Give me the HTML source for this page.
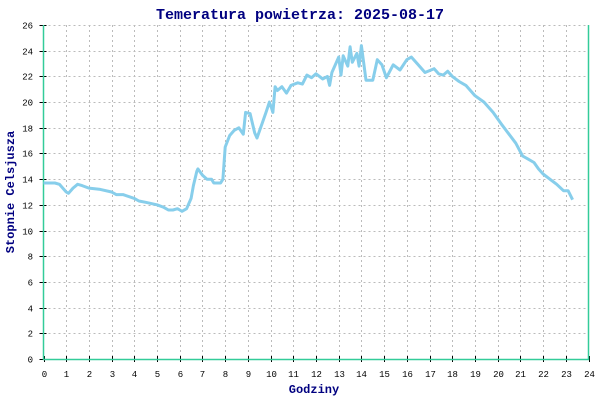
<!DOCTYPE html>
<html><head><meta charset="utf-8"><style>
body{margin:0;background:#fff}
svg{display:block;font-family:"Liberation Mono",monospace}
</style></head><body>
<svg id="c" width="600" height="400">
<text x="300" y="19" text-anchor="middle" font-size="15" font-weight="bold" fill="#000080">Temeratura powietrza: 2025-08-17</text>
<text x="314" y="393" text-anchor="middle" font-size="12" font-weight="bold" fill="#000080">Godziny</text>
<text transform="translate(14,192) rotate(-90)" text-anchor="middle" font-size="12" font-weight="bold" fill="#000080">Stopnie Celsjusza</text>
<g id="grid"></g>
<g id="axes"></g>
<g id="series"></g>
</svg>
<script>
const hours=[0,0.5,0.7,1.0,1.1,1.3,1.5,1.7,2.0,2.5,3.0,3.2,3.5,4,4.2,4.5,5,5.3,5.5,5.7,5.9,6.0,6.1,6.3,6.5,6.6,6.75,6.8,7.0,7.2,7.4,7.5,7.8,7.9,8.0,8.2,8.4,8.6,8.8,8.9,9.1,9.3,9.4,9.6,9.8,9.95,10.05,10.1,10.2,10.3,10.5,10.7,10.9,11.2,11.4,11.6,11.8,12.0,12.3,12.5,12.6,12.7,13,13.1,13.2,13.4,13.5,13.6,13.8,13.9,14.0,14.2,14.5,14.7,14.9,15.1,15.4,15.7,16,16.2,16.5,16.8,17.2,17.4,17.6,17.8,18,18.3,18.6,19,19.4,19.8,20.2,20.5,20.8,21.1,21.3,21.6,21.8,22.0,22.3,22.6,22.9,23.1,23.3];
const temps=[13.7,13.7,13.6,13.0,12.9,13.3,13.6,13.5,13.3,13.2,13.0,12.8,12.8,12.5,12.3,12.2,12.0,11.8,11.6,11.6,11.7,11.6,11.5,11.7,12.5,13.5,14.6,14.8,14.3,14.0,14.0,13.7,13.7,14.0,16.5,17.4,17.8,18.0,17.5,19.2,19.1,17.6,17.2,18.2,19.2,20.0,19.5,19.2,21.2,20.9,21.2,20.7,21.3,21.5,21.4,22.1,21.9,22.2,21.8,22.0,21.3,22.3,23.5,22.1,23.6,22.8,24.3,23.1,23.8,22.8,24.4,21.7,21.7,23.3,22.9,21.9,22.9,22.5,23.3,23.5,22.9,22.3,22.6,22.2,22.1,22.4,22.0,21.6,21.3,20.5,20.0,19.2,18.2,17.5,16.8,15.8,15.6,15.3,14.8,14.4,14.0,13.6,13.1,13.1,12.4];
const xTicks=[0,1,2,3,4,5,6,7,8,9,10,11,12,13,14,15,16,17,18,19,20,21,22,23,24];
const yTicks=[0,2,4,6,8,10,12,14,16,18,20,22,24,26];
const X0=43.5,X1=588.5,Y0=359,Y1=25;
const sx=h=>X0+(h-0)/24*(X1-X0);
const sy=t=>Y0-(t-0)/26*(Y0-Y1);
const NS="http://www.w3.org/2000/svg";
const grid=document.getElementById('grid'),axes=document.getElementById('axes'),ser=document.getElementById('series');
function mk(tag,at,par){const e=document.createElementNS(NS,tag);for(const k in at)e.setAttribute(k,at[k]);par.appendChild(e);return e;}
xTicks.forEach(h=>{
 const x=Math.round(sx(h))+0.5;
 if(h>0&&h<24){const l=mk('line',{x1:x,y1:Y1,x2:x,y2:Y0,stroke:'#bbb','stroke-dasharray':'2,3'},grid);
 
 }
 const t=mk('line',{x1:x,y1:Y0-3,x2:x,y2:Y0+3,stroke:'#000'},axes);
 
 
 const lb=mk('text',{x:x,y:377,'text-anchor':'middle','font-size':9,fill:'#000'},axes);lb.textContent=h;
 
 
});
yTicks.forEach(v=>{
 const y=Math.round(sy(v))+0.5;
 if(v>0){const l=mk('line',{x1:X0,y1:y,x2:X1,y2:y,stroke:'#bbb','stroke-dasharray':'2,3'},grid);
 
 }
 const t=mk('line',{x1:X0-4,y1:y,x2:X0+3,y2:y,stroke:'#000'},axes);
 
 
 const lb=mk('text',{x:33,y:y+3,'text-anchor':'end','font-size':9,fill:'#000'},axes);lb.textContent=v;
 
 
});
const ax=mk('path',{d:`M${X0} ${Y1}V${Y0+0.5}H${X1}V${Y1}`,fill:'none',stroke:'#3c9',"stroke-width":1.5},axes);


const line=mk('polyline',{points:hours.map((h,i)=>sx(h).toFixed(1)+','+sy(temps[i]).toFixed(1)).join(' '),fill:'none',stroke:'#87ceeb','stroke-width':3,'stroke-linejoin':'round'},ser);


</script>
</body></html>
